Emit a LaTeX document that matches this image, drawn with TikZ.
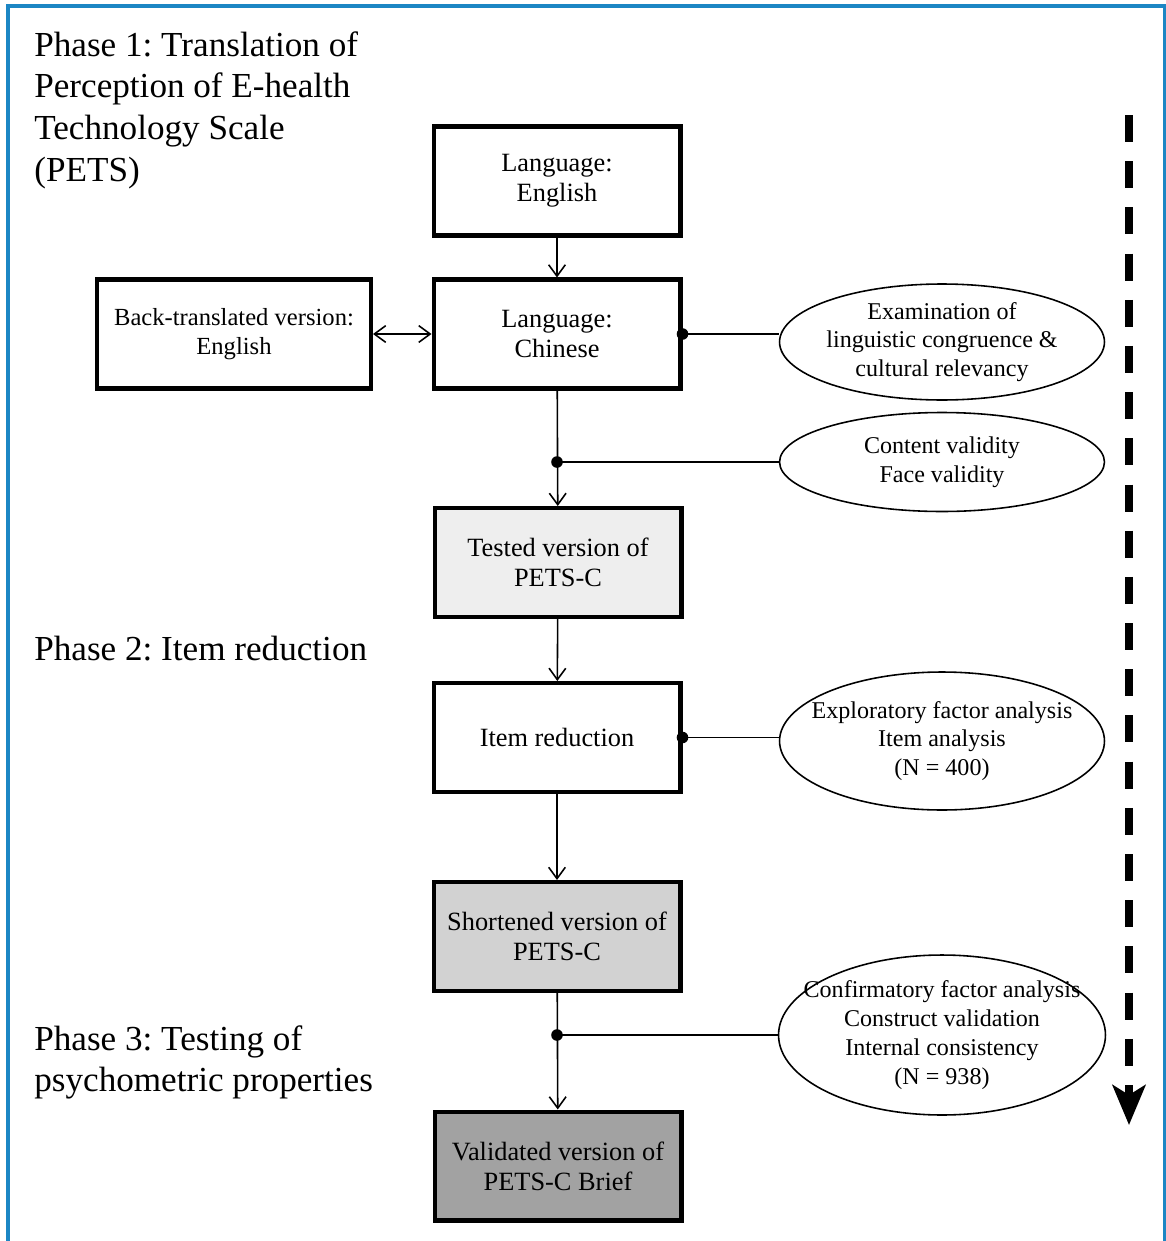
\documentclass[tikz,border=0pt]{standalone}
\usepackage{fontspec}
\setmainfont{Liberation Serif}
\usepackage{tikz}
\usetikzlibrary{arrows.meta, shapes.geometric}
\definecolor{framecolor}{RGB}{28, 134, 196}
\definecolor{testedfill}{RGB}{238, 238, 238}
\definecolor{shortfill}{RGB}{210, 210, 210}
\definecolor{finalfill}{RGB}{162, 162, 162}
\frenchspacing

\begin{document}
\begin{tikzpicture}[x=0.02cm, y=-0.02cm, >={Straight Barb[length=6.5pt, width=9.5pt]},
  box/.style={draw, line width=2.3pt, minimum width=4.94cm, minimum height=2.18cm,
    inner sep=0pt, align=center, font=\fontsize{15}{17.2}\selectfont},
  oval/.style={draw, ellipse, line width=0.9pt, minimum width=6.5cm, inner sep=0pt},
  ovaltext/.style={align=center, font=\fontsize{13.7}{16.4}\selectfont},
  phase/.style={anchor=north west, inner sep=0pt, align=left, font=\fontsize{20}{23.8}\selectfont},
  link/.style={line width=0.9pt}]

  \useasboundingbox (0, 0) rectangle (1166, 1241);

  % --- Frame (open at the bottom) ---
  \draw[framecolor, line width=1.8pt] (8, 1241) -- (8, 6) -- (1165, 6) -- (1165, 1241);

  % --- Phase headings ---
  \node[phase] (phaseone) at (34, 31) {Phase 1: Translation of\\Perception of E-health\\Technology Scale\\(PETS)};
  \node[phase] (phasetwo) at (34, 636) {Phase 2: Item reduction};
  \node[phase] (phasethree) at (34, 1025) {Phase 3: Testing of\\psychometric properties};

  % --- Boxes ---
  \node[box] (eng) at (557, 181) {Language:\\English};
  \node[box] (chn) at (557, 334) {Language:\\Chinese};
  \node[box, minimum width=5.48cm, font=\fontsize{14}{16.2}\selectfont] (back) at (234, 334) {Back-translated version:\\English};
  \node[box, fill=testedfill] (tested) at (558, 562.5) {Tested version of\\PETS-C};
  \node[box] (items) at (557, 737.5) {Item reduction};
  \node[box, fill=shortfill] (short) at (557, 936.5) {Shortened version of\\PETS-C};
  \node[box, fill=finalfill] (final) at (558, 1166) {Validated version of\\PETS-C Brief};

  % --- Ellipses ---
  \node[oval, minimum height=2.32cm] (ling) at (942, 342) {};
  \node[ovaltext] (lingtext) at (ling) {Examination of\\linguistic congruence \&\\cultural relevancy};
  \node[oval, minimum height=1.98cm] (val) at (942, 462) {};
  \node[ovaltext] (valtext) at (val) {Content validity\\Face validity};
  \node[oval, minimum height=2.76cm] (efa) at (942, 741) {};
  \node[ovaltext] (efatext) at (efa) {Exploratory factor analysis\\Item analysis\\(N = 400)};
  \node[oval, minimum width=6.54cm, minimum height=3.2cm] (cfa) at (942, 1035) {};
  \node[ovaltext] (cfatext) at (cfa) {Confirmatory factor analysis\\Construct validation\\Internal consistency\\(N = 938)};

  % --- Connectors ---
  \draw[link, ->] (eng) -- (chn);
  \draw[link, <->] (back) -- (chn);
  \fill (chn.east) circle[radius=3.3pt];
  \draw[link] (chn.east) -- (chn.east -| ling.west);

  \draw[link, ->] (chn) -- (tested);
  \fill (chn.south |- val.west) circle[radius=3.3pt];
  \draw[link] (chn.south |- val.west) -- (val.west);

  \draw[link, ->] (tested) -- (items);
  \fill (items.east) circle[radius=3.3pt];
  \draw[link] (items.east) -- (items.east -| efa.west);

  \draw[link, ->] (items) -- (short);
  \draw[link, ->] (short) -- (final);
  \fill (short.south |- cfa.west) circle[radius=3.3pt];
  \draw[link] (short.south |- cfa.west) -- (cfa.west);

  % Dashed timeline arrow
  \coordinate (flowtop) at (1129, 115);
  \coordinate (flowend) at (1129, 1125);
  \draw[line width=4pt, dash pattern=on 0.54cm off 0.384cm,
    -{Stealth[length=0.8cm, width=0.66cm, inset=0.2cm]}] (flowtop) -- (flowend);

\end{tikzpicture}
\end{document}
